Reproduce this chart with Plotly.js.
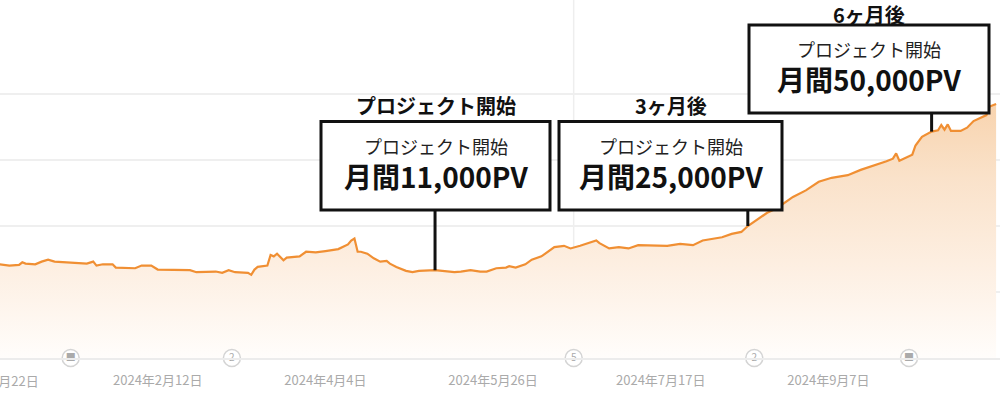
<!DOCTYPE html>
<html>
<head>
<meta charset="utf-8">
<script src="https://cdn.plot.ly/plotly-3.0.1.min.js"></script>
<style>
  html, body { margin: 0; padding: 0; background: #fff; overflow: hidden; }
  #chart { width: 1000px; height: 400px; }
</style>
</head>
<body>
<div id="chart"></div>
<script>
// daily clicks
var dates = [
  '2023-12-25', '2023-12-27', '2023-12-28', '2023-12-31', '2024-01-01', '2024-01-02',
  '2024-01-05', '2024-01-07', '2024-01-09', '2024-01-11', '2024-01-14', '2024-01-19',
  '2024-01-21', '2024-01-23', '2024-01-24', '2024-01-26', '2024-01-29', '2024-01-30',
  '2024-02-02', '2024-02-05', '2024-02-07', '2024-02-10', '2024-02-12', '2024-02-15',
  '2024-02-19', '2024-02-22', '2024-02-24', '2024-02-27', '2024-03-01', '2024-03-03',
  '2024-03-05', '2024-03-07', '2024-03-09', '2024-03-11', '2024-03-12', '2024-03-13',
  '2024-03-14', '2024-03-17', '2024-03-18', '2024-03-19', '2024-03-20', '2024-03-22',
  '2024-03-23', '2024-03-27', '2024-03-29', '2024-04-01', '2024-04-04', '2024-04-08',
  '2024-04-11', '2024-04-12', '2024-04-13', '2024-04-14', '2024-04-15', '2024-04-17',
  '2024-04-19', '2024-04-21', '2024-04-23', '2024-04-24', '2024-04-26', '2024-04-29',
  '2024-05-01', '2024-05-03', '2024-05-08', '2024-05-10', '2024-05-14', '2024-05-16',
  '2024-05-19', '2024-05-22', '2024-05-24', '2024-05-27', '2024-05-30', '2024-05-31',
  '2024-06-02', '2024-06-05', '2024-06-07', '2024-06-10', '2024-06-13', '2024-06-14',
  '2024-06-17', '2024-06-19', '2024-06-22', '2024-06-27', '2024-06-28', '2024-07-01',
  '2024-07-04', '2024-07-07', '2024-07-10', '2024-07-15', '2024-07-19', '2024-07-23',
  '2024-07-27', '2024-07-30', '2024-08-02', '2024-08-05', '2024-08-08', '2024-08-11',
  '2024-08-13', '2024-08-16', '2024-08-19', '2024-08-22', '2024-08-24', '2024-08-27',
  '2024-08-31', '2024-09-04', '2024-09-08', '2024-09-13', '2024-09-17', '2024-09-21',
  '2024-09-25', '2024-09-27', '2024-09-28', '2024-09-29', '2024-09-30', '2024-10-03',
  '2024-10-04', '2024-10-06', '2024-10-09', '2024-10-11', '2024-10-12', '2024-10-13',
  '2024-10-14', '2024-10-15', '2024-10-18', '2024-10-20', '2024-10-22', '2024-10-24',
  '2024-10-26', '2024-10-27', '2024-10-29'
];
var clicks = [
  142, 140, 140, 141, 145, 143,
  142, 146, 149, 146, 145, 144,
  143, 146, 140, 142, 142, 137,
  137, 136, 140, 140, 134, 134,
  134, 133, 130, 130, 131, 129,
  133, 130, 130, 129, 126, 134,
  138, 140, 156, 154, 158, 148,
  152, 154, 161, 160, 162, 165,
  172, 178, 181, 161, 161, 158,
  151, 146, 147, 143, 138, 132,
  130, 132, 133, 132, 130, 131,
  133, 131, 131, 136, 137, 139,
  137, 142, 149, 154, 164, 168,
  170, 166, 170, 178, 174, 166,
  168, 166, 171, 171, 170, 173,
  171, 178, 181, 183, 188, 191,
  200, 210, 220, 227, 234, 244,
  254, 267, 273, 277, 285, 291,
  298, 302, 310, 299, 301, 308,
  322, 335, 343, 345, 353, 346,
  354, 344, 344, 349, 359, 363,
  368, 381, 385
];

var tickDates = ['2024-02-12', '2024-04-04', '2024-05-26', '2024-07-17', '2024-09-07'];
var tickLabels = ['2024年2月12日', '2024年4月4日', '2024年5月26日', '2024年7月17日', '2024年9月7日'];
var cutTickLabel = '2023年12月22日';

var noteDates = ['2024-01-16', '2024-03-06', '2024-06-20', '2024-08-15', '2024-10-02'];
var noteLabels = ['■', '2', '5', '2', '■'];

var eventDates = ['2024-05-08', '2024-08-13', '2024-10-09'];
var eventTitles = ['プロジェクト開始', '3ヶ月後', '6ヶ月後'];
var eventSubs = ['プロジェクト開始', 'プロジェクト開始', 'プロジェクト開始'];
var eventPV = ['月間11,000PV', '月間25,000PV', '月間50,000PV'];

// layout in pixels
var PLOT_H = 358;
var Y_MAX = PLOT_H / 0.66;
var boxes = [
  {x0: 321, x1: 550, top: 121.5, bottom: 210, title: 105},
  {x0: 559, x1: 782, top: 121.5, bottom: 210, title: 106},
  {x0: 749, x1: 989, top: 25, bottom: 113, title: 14}
];

function px(x) { return x / 1000; }
function py(y) { return (PLOT_H - y) / PLOT_H; }
function yVal(y) { return (PLOT_H - y) * Y_MAX / PLOT_H; }

var font = '"Noto Sans CJK JP", "Noto Sans", sans-serif';

var line = {
  x: dates,
  y: clicks,
  type: 'scatter',
  mode: 'lines',
  line: {color: '#f08f33', width: 2.2},
  fill: 'tozeroy',
  fillgradient: {
    type: 'vertical',
    start: 0,
    stop: 390,
    colorscale: [[0, '#fffdfb'], [0.35, '#fdefe2'], [0.7, '#fae2ca'], [1, '#f8d3ad']]
  },
  hoverinfo: 'skip'
};

var notes = {
  x: noteDates,
  y: noteDates.map(function () { return 0; }),
  type: 'scatter',
  mode: 'markers+text',
  text: noteLabels,
  textposition: 'middle center',
  textfont: {family: font, size: 10, color: '#aaaaaa'},
  marker: {symbol: 'circle', size: 17, color: '#ffffff', line: {color: '#d4d4d4', width: 1.5}},
  cliponaxis: false,
  hoverinfo: 'skip'
};

var shapes = [{
  type: 'line', layer: 'below',
  xref: 'x', yref: 'paper',
  x0: noteDates[2], x1: noteDates[2], y0: 0, y1: 1,
  line: {color: '#eeeeee', width: 1.5}
}];
var annotations = [];

boxes.forEach(function (b, i) {
  var d = eventDates[i];
  var cx = (b.x0 + b.x1) / 2;
  var h = b.bottom - b.top;
  shapes.push({
    type: 'line', xref: 'x', yref: 'y',
    x0: d, x1: d, y0: clicks[dates.indexOf(d)], y1: yVal(b.bottom),
    line: {color: '#111111', width: 3}
  });
  shapes.push({
    type: 'rect', xref: 'paper', yref: 'paper',
    x0: px(b.x0), x1: px(b.x1), y0: py(b.bottom), y1: py(b.top),
    fillcolor: '#ffffff',
    line: {color: '#111111', width: 3}
  });
  annotations.push({
    xref: 'paper', yref: 'paper', x: px(cx), y: py(b.title),
    xanchor: 'center', yanchor: 'middle', showarrow: false,
    text: '<b>' + eventTitles[i] + '</b>',
    font: {family: font, size: 20, color: '#111111'}
  });
  annotations.push({
    xref: 'paper', yref: 'paper', x: px(cx), y: py(b.top + h * 0.275),
    xanchor: 'center', yanchor: 'middle', showarrow: false,
    text: eventSubs[i],
    font: {family: font, size: 18, color: '#222222'}
  });
  annotations.push({
    xref: 'paper', yref: 'paper', x: px(cx), y: py(b.top + h * 0.615),
    xanchor: 'center', yanchor: 'middle', showarrow: false,
    text: '<b>' + eventPV[i] + '</b>',
    font: {family: font, size: 28, color: '#111111'}
  });
});

// first tick sits just off the left edge, only its tail is visible
annotations.push({
  xref: 'paper', yref: 'paper', x: px(-10), y: py(381),
  xanchor: 'center', yanchor: 'middle', showarrow: false,
  text: cutTickLabel,
  font: {family: font, size: 13, color: '#aaaaaa'}
});

var layout = {
  width: 1000,
  height: 400,
  margin: {l: 0, r: 0, t: 0, b: 42},
  paper_bgcolor: '#ffffff',
  plot_bgcolor: '#ffffff',
  showlegend: false,
  hovermode: false,
  font: {family: font},
  xaxis: {
    type: 'date',
    range: ['2023-12-25 02:00', '2024-10-30 05:00'],
    tickvals: tickDates,
    ticktext: tickLabels,
    tickfont: {family: font, size: 13, color: '#aaaaaa'},
    ticks: '',
    showgrid: false,
    zeroline: false,
    showline: true,
    linecolor: '#ececec',
    linewidth: 1.5,
    ticklabelstandoff: 10,
    fixedrange: true
  },
  yaxis: {
    range: [0, Y_MAX],
    tickvals: [100, 200, 300, 400],
    showticklabels: false,
    showgrid: true,
    gridcolor: '#efefef',
    gridwidth: 2,
    zeroline: false,
    fixedrange: true
  },
  shapes: shapes,
  annotations: annotations
};

Plotly.newPlot('chart', [line, notes], layout, {displayModeBar: false, staticPlot: true});
</script>
</body>
</html>
